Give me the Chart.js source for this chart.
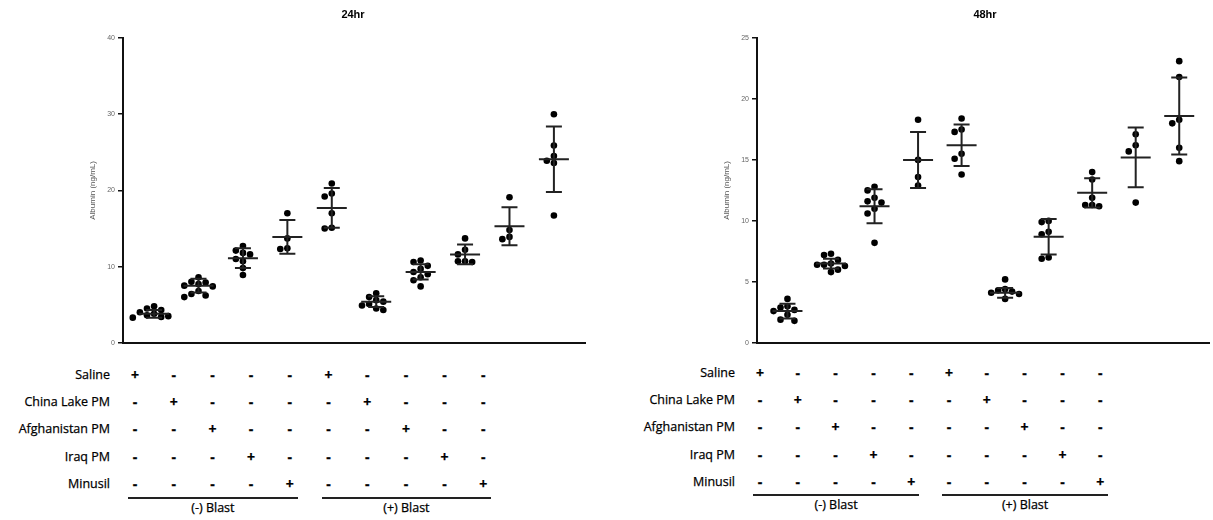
<!DOCTYPE html>
<html>
<head>
<meta charset="utf-8">
<script src="https://cdn.jsdelivr.net/npm/chart.js@4.4.0/dist/chart.umd.min.js"></script>
<style>
body{margin:0;background:#fff;width:1213px;height:520px;position:relative;overflow:hidden;font-family:"Open Sans",sans-serif;color:#000}
.box{position:absolute;top:0;width:600px;height:350px}
.ttl{position:absolute;top:8px;font:bold 11px "Liberation Sans",Arial,sans-serif;transform:translateX(-50%)}
.t{position:absolute;font-size:12.5px;line-height:14px;white-space:nowrap;-webkit-text-stroke:0.25px #000}
.lbl{transform:translate(-100%,-50%)}
.sym{transform:translate(-50%,-50%);font-weight:bold;font-size:14px}
.ln{position:absolute;height:1.5px;background:#222}
</style>
</head>
<body>
<div class="box" id="b24" style="left:0"><canvas id="c24"></canvas></div>
<div class="box" id="b48" style="left:613px"><canvas id="c48"></canvas></div>
<div class="ttl" style="left:353px">24hr</div>
<div class="ttl" style="left:985px">48hr</div>
<script>
// treatment table
var treatments = ['Saline', 'China Lake PM', 'Afghanistan PM', 'Iraq PM', 'Minusil'];
var colTreatment = [0, 1, 2, 3, 4, 0, 1, 2, 3, 4];
var blastLabels = ['(-) Blast', '(+) Blast'];

// 24hr albumin (ng/mL), one list per group
var vals24 = [
    [4.8, 4.5, 4.3, 4.0, 3.8, 3.5, 3.4, 3.3, 3.6],
    [8.6, 8.0, 7.9, 7.7, 7.5, 7.4, 6.8, 6.4, 6.2, 6.0],
    [12.7, 12.1, 11.8, 11.6, 11.0, 10.7, 9.8, 8.9],
    [17.0, 13.7, 12.4, 12.3],
    [20.9, 19.6, 19.2, 17.0, 15.0, 15.1],
    [6.5, 6.0, 5.6, 5.4, 5.1, 4.9, 4.5, 4.3],
    [10.8, 10.6, 10.1, 9.7, 9.3, 9.0, 8.6, 8.2, 7.4],
    [13.7, 12.2, 11.6, 10.7, 10.6, 10.7],
    [19.1, 14.8, 13.6, 13.9],
    [30.0, 25.9, 24.5, 23.9, 23.6, 16.7]
];
var mean24 = [3.8, 7.5, 11.1, 13.9, 17.7, 5.4, 9.3, 11.6, 15.3, 24.1];
var sd24 = [0.5, 0.9, 1.3, 2.2, 2.6, 0.7, 1.0, 1.3, 2.5, 4.3];

// 48hr albumin (ng/mL)
var vals48 = [
    [3.6, 3.0, 2.9, 2.7, 2.6, 2.3, 1.9, 1.8],
    [7.3, 7.2, 6.8, 6.5, 6.4, 6.4, 6.3, 6.0, 5.8],
    [12.8, 12.5, 11.9, 11.6, 11.5, 11.0, 10.6, 8.2],
    [18.3, 15.0, 13.6, 12.9],
    [18.4, 17.5, 17.3, 15.5, 15.1, 13.8],
    [5.2, 4.4, 4.3, 4.2, 4.1, 4.0, 3.6],
    [10.0, 9.9, 9.1, 8.9, 6.9, 7.0],
    [14.0, 13.4, 11.9, 11.2, 11.3, 11.3],
    [17.1, 16.2, 15.7, 11.5],
    [23.1, 21.8, 18.3, 18.0, 16.0, 14.9]
];
var mean48 = [2.6, 6.5, 11.2, 15.0, 16.2, 4.1, 8.7, 12.3, 15.2, 18.6];
var sd48 = [0.6, 0.4, 1.4, 2.3, 1.7, 0.4, 1.45, 1.2, 2.45, 3.15];

// simple beeswarm: spread points sideways when they would overlap
function swarm(vals, g, yTol, xStep) {
    var placed = [];
    vals.slice().sort(function(a, b){ return b - a; }).forEach(function(v){
        var order = [0, -1, 1, -2, 2, -3, 3, -4, 4];
        for (var i = 0; i < order.length; i++) {
            var off = order[i] * xStep;
            var hit = placed.some(function(p){
                return Math.abs(p.o - off) < xStep * 0.99 && Math.abs(p.y - v) < yTol;
            });
            if (!hit) { placed.push({o: off, y: v}); break; }
        }
    });
    return placed.map(function(p){ return {x: g + p.o, y: p.y}; });
}

var errBars = {
    id: 'errBars',
    afterDatasetsDraw: function(chart) {
        var o = chart.options.plugins.errBars;
        var ctx = chart.ctx, x = chart.scales.x, y = chart.scales.y;
        ctx.save();
        ctx.strokeStyle = '#222';
        ctx.lineWidth = 2;
        o.mean.forEach(function(m, i){
            var cx = x.getPixelForValue(i + 1);
            var ym = y.getPixelForValue(m);
            var yt = y.getPixelForValue(m + o.sd[i]);
            var yb = y.getPixelForValue(m - o.sd[i]);
            ctx.beginPath();
            ctx.moveTo(cx - 15, ym); ctx.lineTo(cx + 15, ym);
            ctx.moveTo(cx, yt); ctx.lineTo(cx, yb);
            ctx.moveTo(cx - 8, yt); ctx.lineTo(cx + 8, yt);
            ctx.moveTo(cx - 8, yb); ctx.lineTo(cx + 8, yb);
            ctx.stroke();
        });
        ctx.restore();
    }
};

function makeChart(id, vals, mean, sd, yMax, yStep, yTol, padLeft, padRight) {
    var pts = [];
    vals.forEach(function(v, i){ pts = pts.concat(swarm(v, i + 1, yTol, 0.16)); });
    return new Chart(document.getElementById(id), {
        type: 'scatter',
        data: {
            datasets: [{
                data: pts,
                pointRadius: 3.3,
                pointHoverRadius: 3.3,
                backgroundColor: '#000',
                borderWidth: 0
            }]
        },
        options: {
            responsive: true,
            maintainAspectRatio: false,
            animation: false,
            layout: {padding: {left: padLeft, right: padRight, top: 38, bottom: 7}},
            plugins: {
                legend: {display: false},
                tooltip: {enabled: false},
                errBars: {mean: mean, sd: sd}
            },
            scales: {
                x: {
                    type: 'linear', min: 0.3, max: 10.7,
                    ticks: {display: false},
                    grid: {display: false},
                    border: {display: true, width: 2, color: '#111'},
                    afterFit: function(s){ s.height = 0; }
                },
                y: {
                    min: 0, max: yMax,
                    ticks: {stepSize: yStep, font: {size: 7, family: 'Liberation Sans'}, color: '#666', padding: 3},
                    grid: {drawOnChartArea: false, drawTicks: true, tickLength: 5, color: '#111', lineWidth: 1.5},
                    border: {display: true, width: 2, color: '#111'},
                    title: {display: true, text: 'Albumin (ng/mL)', font: {size: 8, family: 'Liberation Sans'}, color: '#555', padding: {top: 2, bottom: 0}},
                    afterFit: function(s){ s.width = 37; }
                }
            }
        },
        plugins: [errBars]
    });
}

makeChart('c24', vals24, mean24, sd24, 40, 10, 0.85, 86, 15);
makeChart('c48', vals48, mean48, sd48, 25, 5, 0.53, 107, 0);

// +/- treatment tables under each chart
function table(lay) {
    var html = '';
    treatments.forEach(function(name, r){
        var ty = lay.rowY + r * lay.rowStep;
        html += '<div class="t lbl" style="left:' + lay.labelRight + 'px;top:' + ty + 'px">' + name + '</div>';
        colTreatment.forEach(function(t, c){
            var cx = lay.colX + c * lay.colStep;
            html += '<div class="t sym" style="left:' + cx + 'px;top:' + ty + 'px">' + (t === r ? '+' : '-') + '</div>';
        });
    });
    blastLabels.forEach(function(b, k){
        var x0 = lay.colX + k * 5 * lay.colStep - 7;
        var x1 = lay.colX + (k * 5 + 4) * lay.colStep + 8;
        html += '<div class="ln" style="left:' + x0 + 'px;top:' + lay.lineY + 'px;width:' + (x1 - x0) + 'px"></div>';
        html += '<div class="t" style="left:' + ((x0 + x1) / 2) + 'px;top:' + lay.blastY + 'px;transform:translate(-50%,-50%)">' + b + '</div>';
    });
    document.body.insertAdjacentHTML('beforeend', html);
}
table({labelRight: 110, colX: 135, colStep: 38.7, rowY: 375, rowStep: 27.2, lineY: 497, blastY: 508});
table({labelRight: 735, colX: 760, colStep: 37.8, rowY: 373, rowStep: 27.2, lineY: 494, blastY: 505});
</script>
</body>
</html>
